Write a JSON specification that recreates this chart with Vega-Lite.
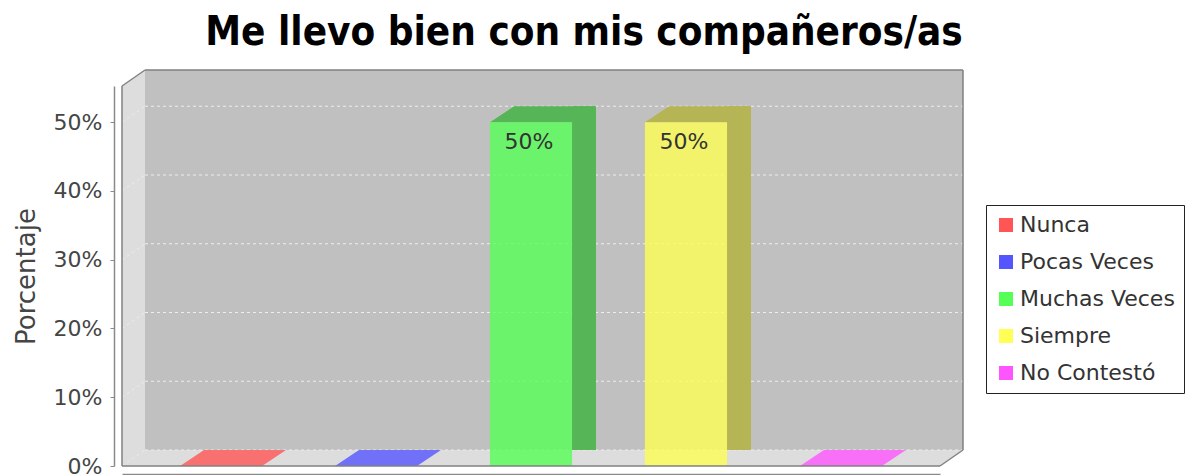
{
  "$schema": "https://vega.github.io/schema/vega-lite/v6.json",
  "width": 818,
  "height": 380,
  "autosize": {"type": "none"},
  "padding": {"left": 122, "top": 86, "right": 246, "bottom": 9},
  "background": "white",
  "title": {
    "text": "Me llevo bien con mis compañeros/as",
    "font": "DejaVu Sans Condensed",
    "fontSize": 40,
    "fontWeight": "bold",
    "color": "#000000",
    "anchor": "middle",
    "frame": "group",
    "dx": 53,
    "offset": 16
  },
  "config": {
    "view": {"stroke": null},
    "font": "DejaVu Sans",
    "axis": {"grid": false}
  },
  "resolve": {"scale": {"x": "independent", "color": "independent"}},
  "layer": [
    {
      "data": {"values": [{}]},
      "layer": [
        {
          "mark": {"type": "rect", "fill": "#DDDDDD", "x2Offset": 23, "yOffset": -16},
          "encoding": {
            "x": {"datum": 0, "type": "quantitative", "scale": {"domain": [0, 1]}, "axis": null},
            "x2": {"datum": 0},
            "y": {"datum": 0.5527, "type": "quantitative", "scale": {"domain": [0, 0.5527], "nice": false}},
            "y2": {"datum": 0}
          }
        },
        {
          "mark": {"type": "rect", "fill": "#DDDDDD", "x2Offset": 23, "yOffset": -16},
          "encoding": {
            "x": {"datum": 0, "type": "quantitative", "scale": {"domain": [0, 1]}, "axis": null},
            "x2": {"datum": 1},
            "y": {"datum": 0, "type": "quantitative", "scale": {"domain": [0, 0.5527], "nice": false}},
            "y2": {"datum": 0}
          }
        },
        {
          "mark": {"type": "rect", "fill": "#C0C0C0", "xOffset": 23, "x2Offset": 23, "yOffset": -16, "y2Offset": -16},
          "encoding": {
            "x": {"datum": 0, "type": "quantitative", "scale": {"domain": [0, 1]}, "axis": null},
            "x2": {"datum": 1},
            "y": {"datum": 0.5527, "type": "quantitative", "scale": {"domain": [0, 0.5527], "nice": false}},
            "y2": {"datum": 0}
          }
        },
        {
          "mark": {"type": "point", "shape": "M0,0L0,-16L23,-16Z", "size": 4, "filled": true, "fill": "white", "opacity": 1, "strokeWidth": 0},
          "encoding": {
            "x": {"datum": 0, "type": "quantitative", "scale": {"domain": [0, 1]}, "axis": null},
            "y": {"datum": 0.5527, "type": "quantitative", "scale": {"domain": [0, 0.5527], "nice": false}}
          }
        },
        {
          "mark": {"type": "point", "shape": "M0,0L23,-16L23,0Z", "size": 4, "filled": true, "fill": "white", "opacity": 1, "strokeWidth": 0},
          "encoding": {
            "x": {"datum": 1, "type": "quantitative", "scale": {"domain": [0, 1]}, "axis": null},
            "y": {"datum": 0, "type": "quantitative", "scale": {"domain": [0, 0.5527], "nice": false}}
          }
        },
        {
          "data": {"values": [{"g": 0}, {"g": 0.1}, {"g": 0.2}, {"g": 0.3}, {"g": 0.4}, {"g": 0.5}]},
          "mark": {"type": "rule", "stroke": "#EEEEEE", "strokeWidth": 1, "strokeDash": [3, 3], "xOffset": 23, "x2Offset": 23, "yOffset": -16},
          "encoding": {
            "x": {"datum": 0, "type": "quantitative", "scale": {"domain": [0, 1]}, "axis": null},
            "x2": {"datum": 1},
            "y": {"field": "g", "type": "quantitative", "scale": {"domain": [0, 0.5527], "nice": false}}
          }
        },
        {
          "data": {"values": [{"g": 0}, {"g": 0.1}, {"g": 0.2}, {"g": 0.3}, {"g": 0.4}, {"g": 0.5}]},
          "mark": {"type": "rule", "stroke": "#ECECEC", "strokeWidth": 1, "strokeDash": [3, 3], "x2Offset": 23, "y2Offset": -16},
          "encoding": {
            "x": {"datum": 0, "type": "quantitative", "scale": {"domain": [0, 1]}, "axis": null},
            "x2": {"datum": 0},
            "y": {"field": "g", "type": "quantitative", "scale": {"domain": [0, 0.5527], "nice": false}},
            "y2": {"field": "g"}
          }
        }
      ]
    },
    {
      "data": {"values": [
        {"cat": "Nunca", "pct": 0},
        {"cat": "Pocas Veces", "pct": 0},
        {"cat": "Muchas Veces", "pct": 0.5},
        {"cat": "Siempre", "pct": 0.5},
        {"cat": "No Contestó", "pct": 0}
      ]},
      "resolve": {"scale": {"color": "independent"}},
      "layer": [
        {
          "transform": [{"filter": "datum.pct > 0"}],
          "mark": {"type": "bar", "width": 24, "xOffset": 53, "yOffset": -16},
          "encoding": {
            "x": {"field": "cat", "type": "nominal", "scale": {"domain": ["Nunca", "Pocas Veces", "Muchas Veces", "Siempre", "No Contestó"], "paddingInner": 0.47, "paddingOuter": 0.374}},
            "y": {"field": "pct", "type": "quantitative", "scale": {"domain": [0, 0.5527], "nice": false}},
            "color": {"field": "cat", "type": "nominal", "scale": {"domain": ["Nunca", "Pocas Veces", "Muchas Veces", "Siempre", "No Contestó"], "range": ["#B55656", "#5656B5", "#56B556", "#B5B556", "#B556B5"]}, "legend": null}
          }
        },
        {
          "transform": [{"filter": "datum.pct > 0"}],
          "mark": {"type": "point", "shape": "M41,0L65,-16L65,0Z", "size": 4, "filled": true, "fill": "#DDDDDD", "opacity": 1, "strokeWidth": 0},
          "encoding": {
            "x": {"field": "cat", "type": "nominal", "scale": {"domain": ["Nunca", "Pocas Veces", "Muchas Veces", "Siempre", "No Contestó"], "paddingInner": 0.47, "paddingOuter": 0.374}},
            "y": {"datum": 0, "type": "quantitative", "scale": {"domain": [0, 0.5527], "nice": false}}
          }
        },
        {
          "transform": [{"filter": "datum.pct > 0"}],
          "mark": {"type": "point", "shape": "M-41,0L41,0L65,-16L-17,-16Z", "size": 4, "filled": true, "opacity": 1, "strokeWidth": 0},
          "encoding": {
            "x": {"field": "cat", "type": "nominal", "scale": {"domain": ["Nunca", "Pocas Veces", "Muchas Veces", "Siempre", "No Contestó"], "paddingInner": 0.47, "paddingOuter": 0.374}},
            "y": {"field": "pct", "type": "quantitative", "scale": {"domain": [0, 0.5527], "nice": false}},
            "color": {"field": "cat", "type": "nominal", "scale": {"domain": ["Nunca", "Pocas Veces", "Muchas Veces", "Siempre", "No Contestó"], "range": ["#B55656", "#5656B5", "#56B556", "#B5B556", "#B556B5"]}, "legend": null}
          }
        },
        {
          "transform": [{"filter": "datum.pct == 0"}],
          "mark": {"type": "point", "shape": "M-41,0L41,0L65,-16L-17,-16Z", "size": 4, "filled": true, "opacity": 0.8, "strokeWidth": 0},
          "encoding": {
            "x": {"field": "cat", "type": "nominal", "scale": {"domain": ["Nunca", "Pocas Veces", "Muchas Veces", "Siempre", "No Contestó"], "paddingInner": 0.47, "paddingOuter": 0.374}},
            "y": {"field": "pct", "type": "quantitative", "scale": {"domain": [0, 0.5527], "nice": false}},
            "color": {"field": "cat", "type": "nominal", "scale": {"domain": ["Nunca", "Pocas Veces", "Muchas Veces", "Siempre", "No Contestó"], "range": ["#FF5555", "#5555FF", "#55FF55", "#FFFF55", "#FF55FF"]}, "legend": null}
          }
        },
        {
          "mark": {"type": "bar", "opacity": 0.8},
          "encoding": {
            "x": {"field": "cat", "type": "nominal", "scale": {"domain": ["Nunca", "Pocas Veces", "Muchas Veces", "Siempre", "No Contestó"], "paddingInner": 0.47, "paddingOuter": 0.374},
              "axis": {"labels": false, "ticks": false, "title": null, "domainColor": "#8A8A8A", "domainWidth": 1.5, "offset": 8, "grid": false}},
            "y": {"field": "pct", "type": "quantitative", "scale": {"domain": [0, 0.5527], "nice": false},
              "axis": {"title": "Porcentaje", "values": [0, 0.1, 0.2, 0.3, 0.4, 0.5], "format": ".0%", "offset": 8, "grid": false,
                "labelFontSize": 22, "labelColor": "#454545", "labelPadding": 8, "labelFont": "DejaVu Sans",
                "tickSize": 4, "tickColor": "#8A8A8A", "domainColor": "#8A8A8A", "domainWidth": 1.5,
                "titleFontSize": 26, "titleFontWeight": "normal", "titleColor": "#454545", "titlePadding": 14, "titleFont": "DejaVu Sans"}},
            "color": {"field": "cat", "type": "nominal", "scale": {"domain": ["Nunca", "Pocas Veces", "Muchas Veces", "Siempre", "No Contestó"], "range": ["#FF5555", "#5555FF", "#55FF55", "#FFFF55", "#FF55FF"]},
              "legend": {"title": null, "orient": "none", "legendX": 864, "legendY": 119, "symbolType": "square", "symbolSize": 196, "symbolOpacity": 1, "symbolStrokeWidth": 0,
                "labelFontSize": 22, "labelColor": "#333333", "labelFont": "DejaVu Sans", "rowPadding": 15, "padding": 9, "strokeColor": "#222222", "labelOffset": 3}}
          }
        },
        {
          "transform": [{"filter": "datum.pct > 0"}],
          "mark": {"type": "text", "fontSize": 22, "color": "#333333", "baseline": "alphabetic", "align": "center", "dy": 27, "dx": -2, "font": "DejaVu Sans"},
          "encoding": {
            "x": {"field": "cat", "type": "nominal", "scale": {"domain": ["Nunca", "Pocas Veces", "Muchas Veces", "Siempre", "No Contestó"], "paddingInner": 0.47, "paddingOuter": 0.374}},
            "y": {"field": "pct", "type": "quantitative", "scale": {"domain": [0, 0.5527], "nice": false}},
            "text": {"field": "pct", "type": "quantitative", "format": ".0%"}
          }
        }
      ]
    },
    {
      "data": {"values": [{}]},
      "layer": [
        {
          "mark": {"type": "rule", "stroke": "#808080", "strokeWidth": 1.5},
          "encoding": {
            "x": {"datum": 0, "type": "quantitative", "scale": {"domain": [0, 1]}, "axis": null},
            "y": {"datum": 0, "type": "quantitative", "scale": {"domain": [0, 0.5527], "nice": false}},
            "y2": {"datum": 0.5527}
          }
        },
        {
          "mark": {"type": "rule", "stroke": "#808080", "strokeWidth": 1.5},
          "encoding": {
            "x": {"datum": 0, "type": "quantitative", "scale": {"domain": [0, 1]}, "axis": null},
            "x2": {"datum": 1},
            "y": {"datum": 0, "type": "quantitative", "scale": {"domain": [0, 0.5527], "nice": false}}
          }
        },
        {
          "mark": {"type": "rule", "stroke": "#808080", "strokeWidth": 1.5, "x2Offset": 23, "y2Offset": -16},
          "encoding": {
            "x": {"datum": 0, "type": "quantitative", "scale": {"domain": [0, 1]}, "axis": null},
            "x2": {"datum": 0},
            "y": {"datum": 0.5527, "type": "quantitative", "scale": {"domain": [0, 0.5527], "nice": false}},
            "y2": {"datum": 0.5527}
          }
        },
        {
          "mark": {"type": "rule", "stroke": "#808080", "strokeWidth": 1.5, "xOffset": 23, "x2Offset": 23, "yOffset": -16},
          "encoding": {
            "x": {"datum": 0, "type": "quantitative", "scale": {"domain": [0, 1]}, "axis": null},
            "x2": {"datum": 1},
            "y": {"datum": 0.5527, "type": "quantitative", "scale": {"domain": [0, 0.5527], "nice": false}}
          }
        },
        {
          "mark": {"type": "rule", "stroke": "#808080", "strokeWidth": 1.5, "xOffset": 23, "yOffset": -16, "y2Offset": -16},
          "encoding": {
            "x": {"datum": 1, "type": "quantitative", "scale": {"domain": [0, 1]}, "axis": null},
            "y": {"datum": 0, "type": "quantitative", "scale": {"domain": [0, 0.5527], "nice": false}},
            "y2": {"datum": 0.5527}
          }
        },
        {
          "mark": {"type": "rule", "stroke": "#808080", "strokeWidth": 1.5, "x2Offset": 23, "y2Offset": -16},
          "encoding": {
            "x": {"datum": 1, "type": "quantitative", "scale": {"domain": [0, 1]}, "axis": null},
            "x2": {"datum": 1},
            "y": {"datum": 0, "type": "quantitative", "scale": {"domain": [0, 0.5527], "nice": false}},
            "y2": {"datum": 0}
          }
        }
      ]
    }
  ]
}
